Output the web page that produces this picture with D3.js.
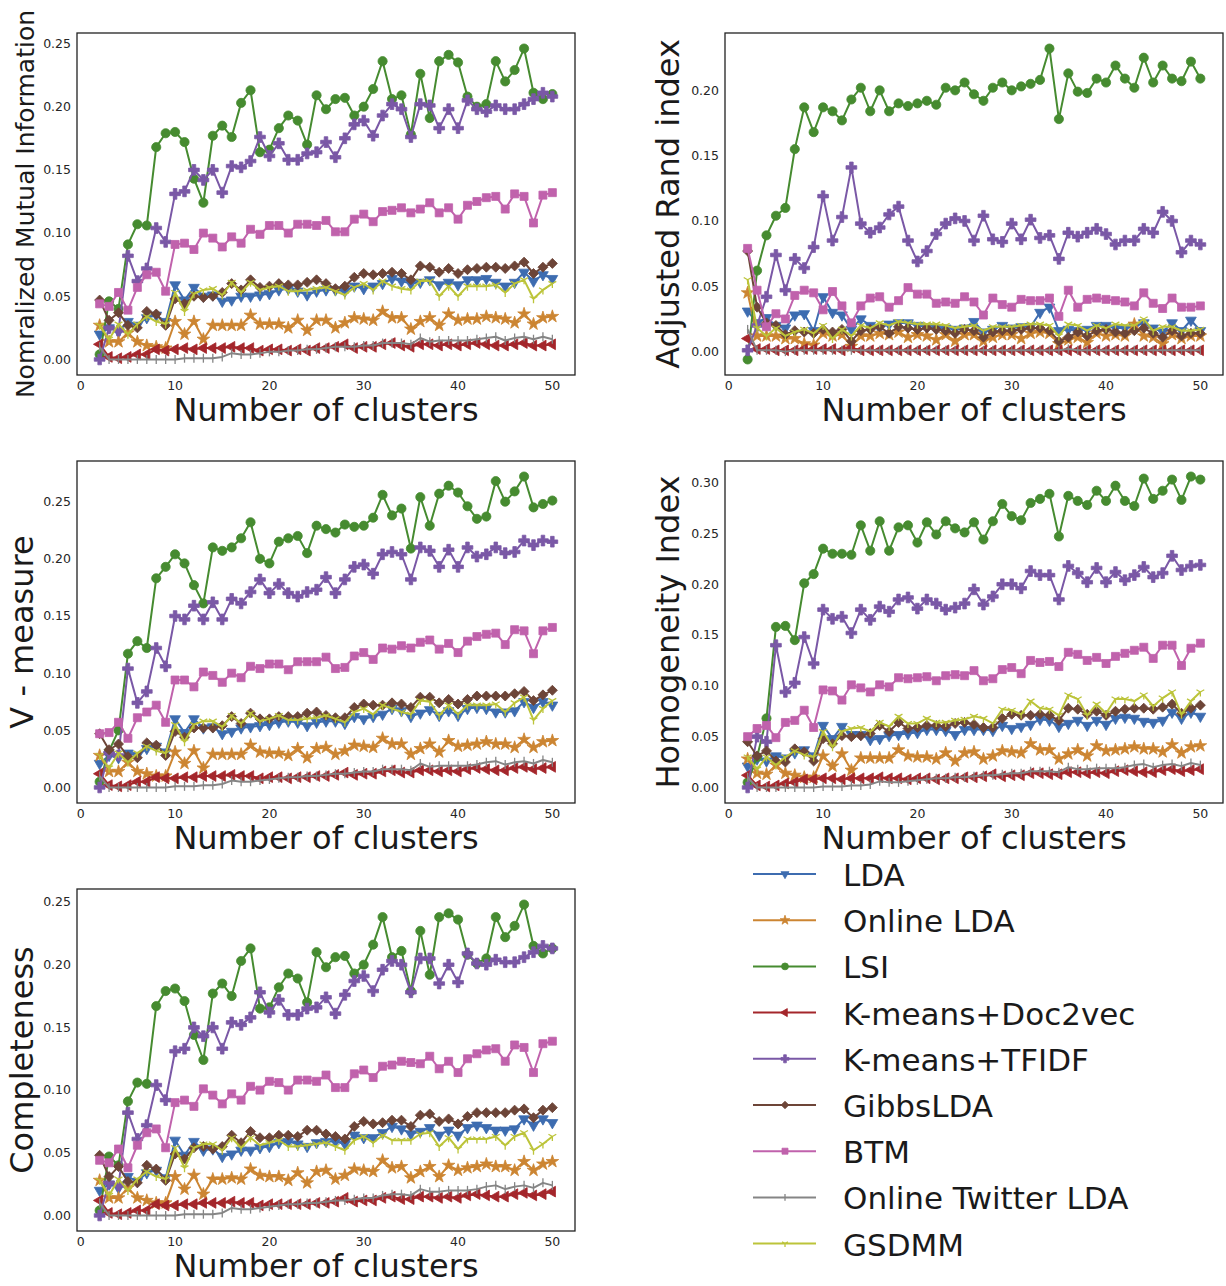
<!DOCTYPE html>
<html>
<head>
<meta charset="utf-8">
<script src="https://cdn.jsdelivr.net/npm/d3@7"></script>
<style>
  body { margin: 0; background: #fff; }
  svg { display: block; font-family: "DejaVu Sans", sans-serif; }
</style>
</head>
<body>
<div id="chart"></div>
<script>
// number of clusters on the x axis
var clusters = d3.range(2, 51);

var methods = ["LDA", "Online LDA", "LSI", "K-means+Doc2vec", "K-means+TFIDF",
               "GibbsLDA", "BTM", "Online Twitter LDA", "GSDMM"];

// ---- Normalized mutual information ----
var nmiLDA = [0.020,0.025,0.022,0.030,0.027,0.033,0.035,0.030, 0.059,0.047,0.057,0.050,0.051,0.046,0.047,0.050,0.050,0.051, 0.052,0.055,0.056,0.054,0.051,0.054,0.055,0.055,0.054,0.058, 0.056,0.058,0.060,0.064,0.062,0.060,0.061,0.063,0.059,0.061, 0.059,0.063,0.063,0.064,0.061,0.058,0.061,0.069,0.062,0.067, 0.064];
var nmiOnline = [0.027,0.014,0.014,0.021,0.014,0.011,0.010,0.009, 0.030,0.020,0.030,0.016,0.027,0.027,0.027,0.027,0.035,0.028, 0.028,0.028,0.025,0.031,0.023,0.031,0.031,0.025,0.029,0.033, 0.032,0.031,0.038,0.033,0.033,0.024,0.030,0.033,0.027,0.036, 0.031,0.032,0.032,0.034,0.033,0.032,0.029,0.036,0.028,0.033, 0.034];
var nmiLSI = [0.004,0.046,0.040,0.091,0.107,0.106,0.168,0.179, 0.180,0.172,0.143,0.124,0.177,0.185,0.176,0.203,0.213,0.164, 0.166,0.183,0.193,0.189,0.170,0.209,0.198,0.206,0.207,0.193, 0.200,0.214,0.236,0.206,0.209,0.178,0.226,0.191,0.236,0.241, 0.235,0.208,0.200,0.202,0.236,0.220,0.229,0.246,0.211,0.206, 0.210];
var nmiDoc2vec = [0.012,0.002,0.001,0.002,0.004,0.004,0.008,0.007, 0.008,0.009,0.008,0.009,0.009,0.009,0.010,0.009,0.009,0.007, 0.008,0.008,0.007,0.008,0.007,0.009,0.009,0.010,0.012,0.009, 0.010,0.010,0.012,0.013,0.011,0.010,0.012,0.012,0.011,0.012, 0.011,0.012,0.013,0.012,0.011,0.011,0.012,0.013,0.011,0.011, 0.012];
var nmiTFIDF = [0.000,0.025,0.023,0.082,0.062,0.072,0.104,0.093, 0.131,0.133,0.150,0.142,0.150,0.132,0.153,0.152,0.157,0.176, 0.161,0.171,0.158,0.158,0.163,0.164,0.172,0.160,0.175,0.186, 0.189,0.177,0.193,0.202,0.198,0.176,0.202,0.201,0.183,0.198, 0.183,0.205,0.198,0.196,0.201,0.198,0.198,0.202,0.206,0.211, 0.208];
var nmiGibbs = [0.047,0.031,0.037,0.027,0.025,0.038,0.036,0.027, 0.048,0.044,0.050,0.049,0.050,0.053,0.060,0.055,0.063,0.057, 0.058,0.060,0.059,0.059,0.061,0.063,0.060,0.056,0.058,0.065, 0.068,0.067,0.068,0.069,0.068,0.063,0.074,0.073,0.069,0.072, 0.068,0.071,0.072,0.073,0.073,0.072,0.074,0.077,0.068,0.073, 0.076];
var nmiBTM = [0.044,0.042,0.053,0.039,0.057,0.067,0.069,0.054, 0.091,0.092,0.087,0.100,0.096,0.089,0.097,0.092,0.103,0.099, 0.106,0.106,0.100,0.107,0.107,0.106,0.110,0.101,0.101,0.111, 0.115,0.109,0.117,0.118,0.120,0.116,0.119,0.124,0.116,0.120, 0.111,0.122,0.125,0.128,0.129,0.119,0.131,0.129,0.108,0.130, 0.132];
var nmiTwitter = [0.010,0.000,0.000,0.000,0.000,0.000,0.000,0.000, 0.000,0.001,0.001,0.001,0.001,0.002,0.005,0.004,0.004,0.005, 0.006,0.006,0.007,0.007,0.008,0.008,0.009,0.010,0.010,0.010, 0.011,0.011,0.013,0.013,0.013,0.012,0.017,0.014,0.015,0.015, 0.015,0.015,0.016,0.017,0.018,0.015,0.017,0.018,0.016,0.018, 0.016];
var nmiGSDMM = [0.027,0.016,0.028,0.020,0.028,0.034,0.030,0.028, 0.053,0.038,0.052,0.055,0.056,0.051,0.061,0.053,0.061,0.055, 0.057,0.058,0.054,0.054,0.055,0.056,0.057,0.054,0.051,0.057, 0.060,0.055,0.062,0.058,0.056,0.055,0.062,0.062,0.050,0.058, 0.050,0.058,0.058,0.058,0.059,0.053,0.060,0.063,0.048,0.055, 0.060];

// ---- Adjusted Rand index ----
var ariLDA = [0.031,0.022,0.026,0.020,0.018,0.028,0.029,0.016, 0.042,0.030,0.028,0.017,0.025,0.020,0.018,0.021,0.022,0.022, 0.020,0.019,0.018,0.018,0.017,0.018,0.023,0.015,0.017,0.020, 0.018,0.019,0.019,0.030,0.034,0.016,0.017,0.016,0.017,0.020, 0.020,0.018,0.018,0.019,0.022,0.018,0.015,0.022,0.016,0.024, 0.016];
var ariOnline = [0.045,0.012,0.012,0.012,0.010,0.010,0.006,0.005, 0.014,0.012,0.013,0.004,0.012,0.012,0.014,0.013,0.015,0.011, 0.013,0.012,0.009,0.013,0.008,0.013,0.013,0.008,0.011,0.013, 0.013,0.010,0.014,0.015,0.014,0.006,0.009,0.011,0.007,0.014, 0.012,0.013,0.012,0.021,0.012,0.011,0.006,0.013,0.010,0.012, 0.012];
var ariLSI = [-0.006,0.062,0.089,0.104,0.110,0.155,0.187,0.168, 0.187,0.184,0.177,0.193,0.202,0.184,0.200,0.184,0.190,0.188, 0.190,0.192,0.189,0.202,0.200,0.206,0.197,0.192,0.202,0.206, 0.200,0.203,0.205,0.208,0.232,0.178,0.213,0.199,0.198,0.209, 0.206,0.219,0.209,0.202,0.225,0.206,0.219,0.209,0.207,0.222, 0.209];
var ariDoc2vec = [0.010,0.002,0.002,0.001,0.001,0.001,0.002,0.002, 0.002,0.002,0.001,0.003,0.001,0.001,0.001,0.001,0.001,0.001, 0.001,0.001,0.001,0.001,0.001,0.001,0.001,0.001,0.001,0.001, 0.001,0.001,0.001,0.001,0.001,0.001,0.001,0.001,0.001,0.001, 0.001,0.001,0.001,0.001,0.001,0.001,0.001,0.001,0.001,0.001, 0.001];
var ariTFIDF = [0.001,0.020,0.042,0.074,0.047,0.071,0.064,0.080, 0.119,0.085,0.103,0.141,0.098,0.091,0.095,0.105,0.111,0.085, 0.069,0.077,0.090,0.098,0.102,0.100,0.085,0.104,0.086,0.084, 0.098,0.086,0.101,0.087,0.089,0.071,0.091,0.088,0.091,0.094, 0.090,0.082,0.085,0.085,0.094,0.091,0.107,0.100,0.076,0.085, 0.082];
var ariGibbs = [0.077,0.034,0.022,0.020,0.013,0.016,0.015,0.014, 0.017,0.015,0.017,0.008,0.016,0.017,0.019,0.014,0.019,0.018, 0.017,0.018,0.017,0.016,0.014,0.017,0.016,0.011,0.015,0.016, 0.016,0.017,0.018,0.018,0.016,0.008,0.011,0.015,0.012,0.016, 0.017,0.015,0.014,0.016,0.018,0.014,0.011,0.016,0.012,0.014, 0.014];
var ariBTM = [0.079,0.047,0.019,0.029,0.025,0.043,0.047,0.045, 0.032,0.046,0.035,0.022,0.035,0.041,0.042,0.034,0.039,0.049, 0.044,0.044,0.037,0.038,0.037,0.042,0.038,0.028,0.041,0.036, 0.034,0.040,0.039,0.039,0.041,0.027,0.047,0.034,0.040,0.041, 0.040,0.039,0.038,0.035,0.045,0.037,0.033,0.041,0.034,0.034, 0.035];
var ariTwitter = [0.017,0.001,0.001,0.001,0.000,0.001,0.001,0.001, 0.001,0.001,0.001,0.001,0.001,0.001,0.001,0.001,0.001,0.001, 0.001,0.001,0.001,0.001,0.001,0.001,0.001,0.001,0.001,0.001, 0.001,0.001,0.001,0.001,0.001,0.001,0.002,0.001,0.001,0.001, 0.001,0.001,0.001,0.001,0.001,0.001,0.001,0.001,0.001,0.001, 0.001];
var ariGSDMM = [0.055,0.018,0.012,0.018,0.012,0.015,0.017,0.014, 0.020,0.010,0.017,0.012,0.020,0.018,0.022,0.020,0.023,0.022, 0.021,0.021,0.021,0.020,0.018,0.019,0.020,0.016,0.019,0.019, 0.019,0.020,0.021,0.021,0.020,0.012,0.021,0.020,0.016,0.020, 0.018,0.021,0.020,0.020,0.025,0.016,0.019,0.019,0.016,0.016, 0.017];

// ---- V-measure ----
var vmLDA = [0.021,0.028,0.026,0.030,0.028,0.034,0.036,0.031, 0.060,0.048,0.060,0.052,0.053,0.047,0.049,0.052,0.053,0.054, 0.055,0.057,0.058,0.057,0.054,0.057,0.058,0.058,0.056,0.062, 0.060,0.062,0.064,0.069,0.067,0.062,0.065,0.068,0.063,0.067, 0.063,0.069,0.070,0.069,0.066,0.066,0.067,0.075,0.070,0.075, 0.072];
var vmOnline = [0.028,0.014,0.014,0.022,0.014,0.012,0.010,0.010, 0.031,0.021,0.032,0.017,0.029,0.029,0.029,0.029,0.037,0.031, 0.030,0.030,0.028,0.034,0.026,0.034,0.035,0.029,0.032,0.037, 0.036,0.035,0.043,0.038,0.038,0.029,0.034,0.038,0.031,0.041, 0.036,0.037,0.038,0.040,0.038,0.038,0.035,0.042,0.035,0.040, 0.041];
var vmLSI = [0.005,0.032,0.050,0.117,0.128,0.122,0.183,0.193, 0.204,0.196,0.177,0.161,0.210,0.207,0.210,0.218,0.232,0.200, 0.196,0.215,0.218,0.220,0.205,0.229,0.226,0.223,0.230,0.228, 0.229,0.236,0.256,0.238,0.244,0.209,0.254,0.229,0.257,0.264, 0.258,0.246,0.235,0.237,0.268,0.250,0.259,0.272,0.245,0.248, 0.251];
var vmDoc2vec = [0.012,0.002,0.001,0.002,0.005,0.005,0.009,0.008, 0.008,0.009,0.009,0.010,0.010,0.010,0.011,0.010,0.010,0.008, 0.009,0.009,0.008,0.009,0.009,0.010,0.010,0.011,0.013,0.011, 0.012,0.012,0.014,0.015,0.013,0.013,0.015,0.015,0.014,0.015, 0.014,0.016,0.017,0.016,0.015,0.015,0.017,0.018,0.016,0.017, 0.018];
var vmTFIDF = [0.000,0.030,0.028,0.104,0.074,0.084,0.122,0.106, 0.150,0.147,0.159,0.147,0.162,0.147,0.165,0.161,0.171,0.182, 0.170,0.178,0.170,0.167,0.171,0.173,0.184,0.170,0.182,0.193, 0.195,0.187,0.204,0.206,0.204,0.182,0.210,0.207,0.193,0.208, 0.193,0.210,0.202,0.204,0.210,0.205,0.206,0.216,0.212,0.216, 0.215];
var vmGibbs = [0.047,0.033,0.038,0.027,0.026,0.039,0.037,0.028, 0.049,0.044,0.052,0.052,0.052,0.054,0.062,0.056,0.065,0.060, 0.060,0.062,0.062,0.062,0.065,0.066,0.063,0.061,0.061,0.070, 0.073,0.072,0.072,0.074,0.073,0.070,0.079,0.079,0.074,0.077, 0.073,0.077,0.080,0.080,0.080,0.080,0.082,0.084,0.076,0.081, 0.085];
var vmBTM = [0.047,0.048,0.057,0.043,0.061,0.066,0.072,0.057, 0.094,0.094,0.088,0.101,0.098,0.092,0.100,0.096,0.106,0.104, 0.108,0.108,0.103,0.110,0.110,0.110,0.114,0.104,0.105,0.115, 0.118,0.112,0.122,0.121,0.124,0.122,0.127,0.129,0.121,0.126, 0.118,0.128,0.132,0.134,0.135,0.125,0.138,0.137,0.117,0.137, 0.140];
var vmTwitter = [0.010,0.000,0.000,0.000,0.000,0.000,0.000,0.000, 0.001,0.001,0.001,0.002,0.002,0.003,0.006,0.005,0.005,0.006, 0.007,0.008,0.009,0.009,0.010,0.010,0.011,0.012,0.012,0.013, 0.014,0.014,0.016,0.016,0.016,0.015,0.021,0.018,0.019,0.019, 0.019,0.019,0.020,0.022,0.023,0.020,0.022,0.023,0.021,0.024, 0.022];
var vmGSDMM = [0.028,0.017,0.030,0.022,0.030,0.036,0.032,0.030, 0.055,0.040,0.055,0.058,0.058,0.053,0.063,0.056,0.065,0.058, 0.060,0.063,0.059,0.059,0.060,0.061,0.063,0.060,0.057,0.066, 0.069,0.064,0.072,0.069,0.066,0.064,0.076,0.075,0.063,0.072, 0.064,0.072,0.072,0.072,0.073,0.066,0.074,0.079,0.059,0.069, 0.076];

// ---- Homogeneity ----
var hoLDA = [0.021,0.028,0.026,0.031,0.029,0.034,0.037,0.031, 0.061,0.048,0.060,0.052,0.052,0.047,0.048,0.051,0.052,0.053, 0.054,0.057,0.057,0.056,0.052,0.057,0.057,0.057,0.056,0.061, 0.058,0.060,0.062,0.067,0.066,0.060,0.063,0.066,0.061,0.066, 0.062,0.068,0.069,0.068,0.065,0.064,0.066,0.074,0.068,0.074, 0.070];
var hoOnline = [0.028,0.014,0.013,0.022,0.014,0.012,0.010,0.010, 0.031,0.021,0.033,0.017,0.029,0.029,0.029,0.029,0.037,0.031, 0.030,0.030,0.028,0.034,0.026,0.034,0.035,0.028,0.031,0.036, 0.035,0.034,0.043,0.037,0.037,0.028,0.033,0.037,0.031,0.041, 0.036,0.037,0.038,0.040,0.038,0.038,0.035,0.042,0.034,0.040, 0.041];
var hoLSI = [0.005,0.030,0.068,0.158,0.159,0.145,0.201,0.210, 0.235,0.230,0.230,0.229,0.258,0.233,0.262,0.233,0.256,0.258, 0.241,0.261,0.249,0.262,0.255,0.251,0.261,0.244,0.262,0.279, 0.267,0.263,0.280,0.284,0.289,0.247,0.287,0.282,0.278,0.292, 0.282,0.297,0.282,0.277,0.304,0.284,0.292,0.303,0.283,0.306, 0.303];
var hoDoc2vec = [0.012,0.002,0.001,0.002,0.004,0.005,0.008,0.008, 0.009,0.009,0.008,0.009,0.009,0.009,0.010,0.009,0.009,0.008, 0.009,0.009,0.008,0.009,0.009,0.010,0.010,0.011,0.013,0.011, 0.012,0.012,0.014,0.014,0.013,0.013,0.015,0.015,0.014,0.015, 0.014,0.016,0.017,0.016,0.015,0.015,0.017,0.018,0.016,0.017, 0.018];
var hoTFIDF = [0.000,0.050,0.045,0.140,0.094,0.103,0.148,0.122, 0.175,0.166,0.168,0.152,0.175,0.165,0.178,0.173,0.185,0.187, 0.176,0.185,0.181,0.175,0.177,0.181,0.195,0.180,0.188,0.200, 0.200,0.196,0.213,0.209,0.209,0.185,0.218,0.211,0.202,0.216, 0.202,0.212,0.204,0.209,0.217,0.207,0.211,0.228,0.214,0.218, 0.219];
var hoGibbs = [0.045,0.031,0.036,0.026,0.025,0.038,0.035,0.026, 0.048,0.043,0.051,0.050,0.051,0.053,0.061,0.055,0.064,0.058, 0.059,0.061,0.061,0.060,0.063,0.064,0.062,0.059,0.059,0.068, 0.072,0.071,0.071,0.072,0.071,0.066,0.078,0.077,0.072,0.075, 0.071,0.075,0.077,0.078,0.078,0.077,0.079,0.082,0.073,0.078, 0.081];
var hoBTM = [0.050,0.058,0.061,0.049,0.064,0.066,0.076,0.059, 0.096,0.095,0.086,0.101,0.098,0.094,0.101,0.099,0.108,0.107, 0.108,0.109,0.105,0.110,0.111,0.110,0.115,0.105,0.107,0.116, 0.118,0.112,0.125,0.123,0.124,0.119,0.133,0.131,0.125,0.128, 0.122,0.129,0.132,0.135,0.138,0.127,0.140,0.140,0.120,0.137, 0.142];
var hoTwitter = [0.010,0.000,0.000,0.000,0.000,0.000,0.000,0.000, 0.001,0.001,0.001,0.002,0.002,0.003,0.006,0.005,0.005,0.006, 0.007,0.008,0.009,0.009,0.010,0.010,0.011,0.012,0.012,0.013, 0.014,0.014,0.016,0.016,0.016,0.015,0.020,0.018,0.018,0.019, 0.019,0.019,0.020,0.022,0.023,0.020,0.022,0.023,0.021,0.024, 0.022];
var hoGSDMM = [0.030,0.018,0.030,0.022,0.030,0.036,0.032,0.030, 0.055,0.040,0.055,0.058,0.059,0.055,0.064,0.060,0.070,0.063, 0.063,0.068,0.064,0.064,0.066,0.067,0.070,0.068,0.063,0.077, 0.076,0.072,0.085,0.078,0.077,0.071,0.091,0.087,0.071,0.082, 0.073,0.087,0.087,0.085,0.091,0.080,0.088,0.094,0.072,0.085, 0.094];

// ---- Completeness ----
var coLDA = [0.020,0.025,0.022,0.031,0.027,0.034,0.036,0.030, 0.060,0.048,0.059,0.052,0.053,0.047,0.049,0.052,0.052,0.054, 0.055,0.058,0.059,0.057,0.055,0.058,0.059,0.059,0.057,0.064, 0.062,0.062,0.066,0.071,0.069,0.065,0.067,0.070,0.064,0.068, 0.064,0.070,0.072,0.070,0.068,0.068,0.069,0.077,0.072,0.077, 0.074];
var coOnline = [0.028,0.014,0.014,0.022,0.014,0.012,0.010,0.010, 0.031,0.021,0.032,0.017,0.029,0.029,0.030,0.029,0.037,0.032, 0.031,0.031,0.028,0.034,0.026,0.035,0.036,0.029,0.032,0.037, 0.036,0.035,0.044,0.038,0.039,0.030,0.035,0.039,0.031,0.040, 0.036,0.038,0.039,0.041,0.039,0.039,0.036,0.043,0.036,0.041, 0.043];
var coLSI = [0.004,0.047,0.040,0.091,0.106,0.105,0.167,0.179, 0.181,0.171,0.144,0.124,0.177,0.185,0.175,0.203,0.213,0.165, 0.166,0.182,0.193,0.189,0.170,0.210,0.198,0.206,0.207,0.193, 0.200,0.216,0.238,0.206,0.211,0.179,0.227,0.192,0.238,0.241, 0.236,0.208,0.201,0.205,0.238,0.222,0.231,0.248,0.215,0.209, 0.213];
var coDoc2vec = [0.012,0.002,0.001,0.002,0.004,0.004,0.009,0.008, 0.008,0.009,0.009,0.010,0.010,0.010,0.011,0.010,0.010,0.008, 0.009,0.009,0.009,0.009,0.009,0.010,0.010,0.011,0.014,0.011, 0.012,0.012,0.014,0.015,0.013,0.013,0.015,0.015,0.014,0.015, 0.014,0.016,0.017,0.016,0.015,0.015,0.017,0.018,0.016,0.017, 0.019];
var coTFIDF = [0.000,0.026,0.024,0.082,0.061,0.072,0.104,0.092, 0.131,0.133,0.150,0.143,0.150,0.133,0.154,0.152,0.158,0.178, 0.162,0.172,0.160,0.160,0.165,0.166,0.174,0.161,0.176,0.187, 0.191,0.179,0.196,0.203,0.200,0.178,0.205,0.205,0.185,0.200, 0.186,0.209,0.201,0.200,0.204,0.202,0.202,0.206,0.210,0.215, 0.213];
var coGibbs = [0.048,0.031,0.039,0.027,0.026,0.040,0.037,0.028, 0.049,0.045,0.054,0.055,0.053,0.055,0.064,0.058,0.067,0.062, 0.062,0.064,0.064,0.063,0.068,0.068,0.065,0.063,0.061,0.071, 0.075,0.073,0.074,0.076,0.076,0.071,0.080,0.081,0.075,0.077, 0.073,0.079,0.082,0.082,0.082,0.082,0.084,0.085,0.078,0.084, 0.086];
var coBTM = [0.044,0.042,0.053,0.038,0.056,0.066,0.069,0.054, 0.090,0.092,0.087,0.101,0.096,0.089,0.097,0.092,0.103,0.100, 0.107,0.106,0.100,0.108,0.108,0.107,0.112,0.102,0.102,0.113, 0.116,0.110,0.119,0.120,0.123,0.122,0.121,0.127,0.117,0.123, 0.114,0.125,0.129,0.132,0.133,0.123,0.136,0.134,0.114,0.137, 0.139];
var coTwitter = [0.010,0.000,0.000,0.000,0.000,0.000,0.000,0.000, 0.000,0.001,0.001,0.001,0.001,0.002,0.006,0.005,0.005,0.006, 0.007,0.008,0.009,0.009,0.010,0.010,0.011,0.012,0.012,0.013, 0.014,0.014,0.016,0.017,0.017,0.016,0.021,0.019,0.019,0.020, 0.020,0.020,0.021,0.023,0.024,0.021,0.023,0.024,0.022,0.026, 0.024];
var coGSDMM = [0.028,0.016,0.029,0.020,0.029,0.035,0.031,0.029, 0.054,0.038,0.054,0.057,0.057,0.052,0.062,0.054,0.062,0.056, 0.058,0.060,0.055,0.055,0.056,0.057,0.058,0.055,0.052,0.060, 0.063,0.058,0.064,0.060,0.060,0.060,0.065,0.066,0.055,0.062, 0.053,0.061,0.061,0.061,0.063,0.056,0.063,0.066,0.052,0.057, 0.063];

// ---------------------------------------------------------------

var colors = ["#3d6cb0", "#cc8532", "#468b30", "#a4262b", "#7a58a6",
              "#6d4538", "#c062ac", "#858585", "#bcc43a"];
var shapes = ["tridown", "star", "circle", "trileft", "plus",
              "diamond", "square", "vline", "tri1"];

var panels = [
    {label: "Nomralized Mutual Information", size: 25, left: 77, top: 33, labelX: 34,
     series: [nmiLDA, nmiOnline, nmiLSI, nmiDoc2vec, nmiTFIDF, nmiGibbs, nmiBTM, nmiTwitter, nmiGSDMM]},
    {label: "Adjusted Rand index", size: 32, left: 725, top: 33, labelX: 679,
     series: [ariLDA, ariOnline, ariLSI, ariDoc2vec, ariTFIDF, ariGibbs, ariBTM, ariTwitter, ariGSDMM]},
    {label: "V - measure", size: 32, left: 77, top: 461, labelX: 33,
     series: [vmLDA, vmOnline, vmLSI, vmDoc2vec, vmTFIDF, vmGibbs, vmBTM, vmTwitter, vmGSDMM]},
    {label: "Homogeneity Index", size: 32, left: 725, top: 461, labelX: 679,
     series: [hoLDA, hoOnline, hoLSI, hoDoc2vec, hoTFIDF, hoGibbs, hoBTM, hoTwitter, hoGSDMM]},
    {label: "Completeness", size: 32, left: 77, top: 889, labelX: 33,
     series: [coLDA, coOnline, coLSI, coDoc2vec, coTFIDF, coGibbs, coBTM, coTwitter, coGSDMM]}
];

var width = 1226, height = 1286;
var pw = 498, ph = 342;

var svg = d3.select('#chart')
    .append('svg')
    .attr('width', width)
    .attr('height', height);

// draws one marker of a given kind at the origin of g
function drawMarker(g, kind, color, k) {
    var sym = null, size = 0, rot = 0;
    if (kind == "circle") { sym = d3.symbolCircle; size = 66; }
    if (kind == "square") { sym = d3.symbolSquare; size = 64; }
    if (kind == "diamond") { sym = d3.symbolSquare; size = 50; rot = 45; }
    if (kind == "tridown") { sym = d3.symbolTriangle; size = 50; rot = 180; }
    if (kind == "trileft") { sym = d3.symbolTriangle; size = 50; rot = -90; }
    if (kind == "star") { sym = d3.symbolStar; size = 50; }
    if (kind == "plus") { sym = d3.symbolCross; size = 64; }
    if (sym) {
        g.append('path')
            .attr('d', d3.symbol().type(sym).size(size * k * k))
            .attr('transform', 'rotate(' + rot + ')')
            .attr('fill', color)
            .attr('stroke', color)
            .attr('stroke-width', 0.8);
    } else if (kind == "vline") {
        g.append('path')
            .attr('d', 'M0,' + (-4.5 * k) + 'V' + (4.5 * k))
            .attr('stroke', color)
            .attr('stroke-width', 1.3);
    } else {
        var r = 4.5 * k;
        g.append('path')
            .attr('d', 'M0,0V' + r + 'M0,0L' + (-r * 0.87) + ',' + (-r * 0.5) + 'M0,0L' + (r * 0.87) + ',' + (-r * 0.5))
            .attr('stroke', color)
            .attr('stroke-width', 1.3)
            .attr('fill', 'none');
    }
}

panels.forEach(function(p) {
    var all = d3.merge(p.series);
    var lo = d3.min(all), hi = d3.max(all);
    var pad = (hi - lo) * 0.05;

    var x = d3.scaleLinear().domain([2 - 2.4, 50 + 2.4]).range([p.left, p.left + pw]);
    var y = d3.scaleLinear().domain([lo - pad, hi + pad]).range([p.top + ph, p.top]);

    var g = svg.append('g');

    // series, drawn in legend order
    p.series.forEach(function(vals, i) {
        var pts = clusters.map(function(c, j) { return [c, vals[j]]; });
        var line = d3.line()
            .x(function(d) { return x(d[0]); })
            .y(function(d) { return y(d[1]); });
        g.append('path')
            .datum(pts)
            .attr('d', line)
            .attr('fill', 'none')
            .attr('stroke', colors[i])
            .attr('stroke-width', 2)
            .attr('stroke-linejoin', 'round');
        g.selectAll('.m' + i)
            .data(pts)
            .enter()
            .append('g')
            .attr('transform', function(d) { return 'translate(' + x(d[0]) + ',' + y(d[1]) + ')'; })
            .each(function() { drawMarker(d3.select(this), shapes[i], colors[i], 1); });
    });

    // frame
    g.append('rect')
        .attr('x', p.left)
        .attr('y', p.top)
        .attr('width', pw)
        .attr('height', ph)
        .attr('fill', 'none')
        .attr('stroke', '#222')
        .attr('stroke-width', 1.3);

    var f = d3.format(".2f");
    g.selectAll('.yt')
        .data(y.ticks(6).filter(function(t) { return t >= 0; }))
        .enter()
        .append('text')
        .attr('x', p.left - 6)
        .attr('y', function(d) { return y(d); })
        .attr('dy', '0.35em')
        .attr('text-anchor', 'end')
        .attr('font-size', 12.5)
        .attr('fill', '#262626')
        .text(function(d) { return f(d); });

    g.selectAll('.xt')
        .data([0, 10, 20, 30, 40, 50])
        .enter()
        .append('text')
        .attr('x', function(d) { return x(d); })
        .attr('y', p.top + ph + 15)
        .attr('text-anchor', 'middle')
        .attr('font-size', 12.5)
        .attr('fill', '#262626')
        .text(function(d) { return d; });

    g.append('text')
        .attr('x', p.left + pw / 2)
        .attr('y', p.top + ph + 46)
        .attr('text-anchor', 'middle')
        .attr('font-size', 32)
        .attr('fill', '#1a1a1a')
        .text("Number of clusters");

    g.append('text')
        .attr('transform', 'translate(' + p.labelX + ',' + (p.top + ph / 2) + ') rotate(-90)')
        .attr('text-anchor', 'middle')
        .attr('font-size', p.size)
        .attr('fill', '#1a1a1a')
        .text(p.label);
});

// legend
var legend = svg.append('g');
methods.forEach(function(m, i) {
    var ly = 874 + i * 46.2;
    legend.append('line')
        .attr('x1', 753).attr('x2', 816)
        .attr('y1', ly).attr('y2', ly)
        .attr('stroke', colors[i])
        .attr('stroke-width', 2);
    var mk = legend.append('g').attr('transform', 'translate(785,' + ly + ')');
    drawMarker(mk, shapes[i], colors[i], 0.75);
    legend.append('text')
        .attr('x', 843)
        .attr('y', ly + 12)
        .attr('font-size', 31)
        .attr('fill', '#1a1a1a')
        .text(m);
});
</script>
</body>
</html>
